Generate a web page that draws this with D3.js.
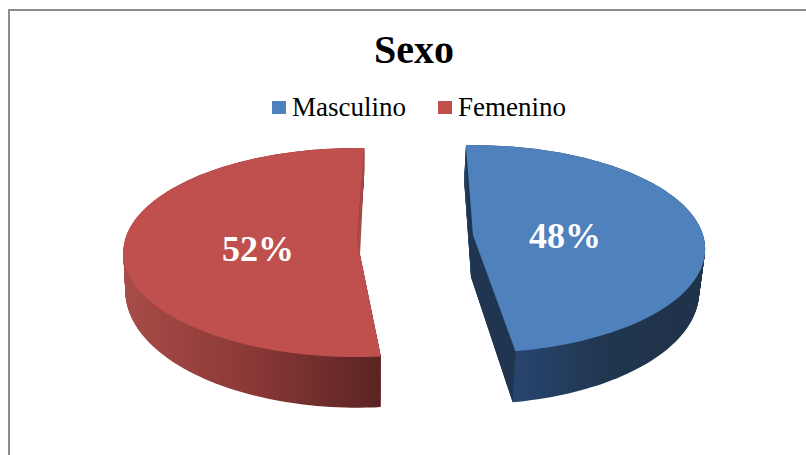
<!DOCTYPE html>
<html><head><meta charset="utf-8">
<script src="https://cdnjs.cloudflare.com/ajax/libs/d3/7.8.5/d3.min.js"></script>
<style>html,body{margin:0;padding:0;background:#fff}svg{display:block}text{font-family:"Liberation Serif",serif}</style>
</head><body>
<svg id="c" width="806" height="455"></svg>
<script>
const categories = ["Masculino", "Femenino"];
const values = [48, 52];
const chartTitle = "Sexo";
const sliceColors = ["#4F81BD", "#C0504D"];

// Per-slice 3D view: top face, bottom face (perspective k), rotation tweak in degrees.
const views = [
  {rot:-2, k:.135, top:{x:473,y:235,a:230,b:102}, bot:{x:471,y:277,a:226,b:110},
   cutV:[471,277], cutDepth:44, frontCut:true,
   wall:["#28456e","#20354f","#1f3349"], cut:"#1F3550", labelX:565, labelY:248},
  {rot:2, k:.12, top:{x:357,y:240,a:232,b:103}, bot:{x:357,y:277,a:230,b:115},
   cutV:[360,255], cutDepth:22, frontCut:false,
   wall:["#a84c48","#8a3836","#5a2423"], cut:"#A64B48", labelX:258, labelY:261}
];

const svg = d3.select("#c");
const defs = svg.append("defs");
const pie = d3.pie().sort(null).value(d => d);
const arcs = pie(values);
const line = d3.line();

function project(face, k, t) {
  const X = Math.sin(t), Y = -Math.cos(t), w = 1 - k * Y;
  return [face.x + face.a * X / w, face.y + face.b * Y / w];
}
function rim(face, k, a0, a1) {
  return d3.range(0, 121).map(i => project(face, k, a0 + (a1 - a0) * i / 120));
}
function mix(f, g, t) {
  return {x:f.x+(g.x-f.x)*t, y:f.y+(g.y-f.y)*t, a:f.a+(g.a-f.a)*t, b:f.b+(g.b-f.b)*t};
}
function sector(face, k, a0, a1) {
  return line([[face.x, face.y]].concat(rim(face, k, a0, a1))) + "Z";
}

svg.append("path").attr("fill","none").attr("stroke","#8c8c8c").attr("stroke-width",2)
   .attr("d","M9,455V10H806");

arcs.forEach((arc, i) => {
  const v = views[i], rot = v.rot * Math.PI / 180;
  const a0 = arc.startAngle + rot, a1 = arc.endAngle + rot;
  const top = rim(v.top, v.k, a0, a1), bot = rim(v.bot, v.k, a0, a1);
  const id = "wall" + i;
  const g = defs.append("linearGradient").attr("id", id).attr("gradientUnits","userSpaceOnUse")
    .attr("x1", i ? 125 : 515).attr("x2", i ? 381 : 705).attr("y1",0).attr("y2",0);
  v.wall.forEach((c, j) => g.append("stop").attr("offset", j / (v.wall.length - 1)).attr("stop-color", c));

  const layer = svg.append("g");
  // solid body: stacked sectors from the bottom face upward
  d3.range(60, -1, -1).forEach(s => {
    layer.append("path").attr("fill", `url(#${id})`)
      .attr("d", sector(mix(v.top, v.bot, s / 60), v.k, a0, a1));
  });
  // cut face along the back edge
  const back = i ? top[120] : top[0];
  layer.append("path").attr("fill", v.cut)
    .attr("d", line([back, [v.top.x, v.top.y], v.cutV, [back[0], back[1] + v.cutDepth]]) + "Z");
  // cut face along the front edge
  if (v.frontCut) {
    layer.append("path").attr("fill", v.cut)
      .attr("d", line([top[120], [v.top.x, v.top.y], v.cutV, bot[120]]) + "Z");
  }
  // top face
  layer.append("path").attr("fill", sliceColors[i])
    .attr("d", line([[v.top.x, v.top.y]].concat(top)) + "Z");
});

svg.append("text").attr("x",414).attr("y",63).attr("text-anchor","middle")
   .attr("font-size",40).attr("font-weight","bold").attr("fill","#000").text(chartTitle);

const legendSwatch = [272, 438], legendText = [292, 458];
categories.forEach((c, i) => {
  svg.append("rect").attr("x",legendSwatch[i]).attr("y",101).attr("width",14).attr("height",13).attr("fill",sliceColors[i]);
  svg.append("text").attr("x",legendText[i]).attr("y",116).attr("font-size",27).attr("fill","#000").text(c);
});

arcs.forEach((arc, i) => {
  svg.append("text").attr("x",views[i].labelX).attr("y",views[i].labelY).attr("text-anchor","middle")
    .attr("font-size",36).attr("font-weight","bold").attr("fill","#fff")
    .text(d3.format(".0%")(arc.data / d3.sum(values)));
});
</script>
</body></html>
